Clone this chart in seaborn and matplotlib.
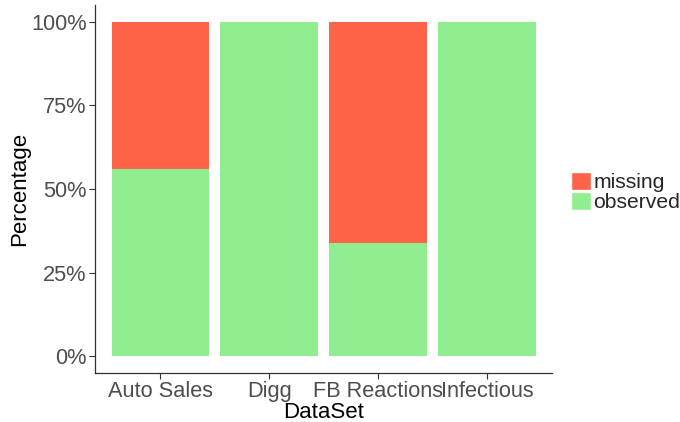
import pandas as pd
import seaborn as sns
import matplotlib.pyplot as plt
from matplotlib.patches import Patch
from matplotlib.ticker import PercentFormatter

# share of observed vs missing values per dataset (percent)
datasets = ["Auto Sales", "Digg", "FB Reactions", "Infectious"]
observed = [56, 100, 34, 100]
missing = [44, 0, 66, 0]

df = pd.DataFrame({"DataSet": datasets, "observed": observed, "missing": missing})
df["total"] = df["observed"] + df["missing"]

sns.set_style("white")
plt.rcParams["font.family"] = ["Liberation Sans", "DejaVu Sans"]

fig = plt.figure(figsize=(6.8, 4.22), dpi=100)
ax = fig.add_axes([0.14, 0.116, 0.672, 0.872])

# stacked: full bar in red, observed part painted over in green
sns.barplot(data=df, x="DataSet", y="total", color="#FF6347", saturation=1,
            width=0.9, order=datasets, linewidth=0, ax=ax)
sns.barplot(data=df, x="DataSet", y="observed", color="#90EE90", saturation=1,
            width=0.9, order=datasets, linewidth=0, ax=ax)

ax.set_xlim(-0.6, 3.6)
ax.set_ylim(-5, 105)
ax.set_yticks([0, 25, 50, 75, 100])
ax.yaxis.set_major_formatter(PercentFormatter(decimals=0))
ax.set_xlabel("DataSet", fontsize=16, color="black", labelpad=0)
ax.set_ylabel("Percentage", fontsize=16, color="black", labelpad=1)
ax.tick_params(axis="both", labelsize=15.7, labelcolor="#4D4D4D", color="#333333",
               length=4, width=0.8, direction="out", bottom=True, left=True, pad=2)
for s in ["top", "right"]:
    ax.spines[s].set_visible(False)
for s in ["left", "bottom"]:
    ax.spines[s].set_color("#333333")
    ax.spines[s].set_linewidth(0.9)

handles = [Patch(facecolor="#FF6347", label="missing"),
           Patch(facecolor="#90EE90", label="observed")]
fig.legend(handles=handles, loc="center left", bbox_to_anchor=(0.839, 0.545),
           frameon=False, fontsize=15.2, handlelength=0.95, handleheight=0.95,
           handletextpad=0.12, labelspacing=0.0, borderaxespad=0, borderpad=0)

fig.savefig("out.png", dpi=100)
